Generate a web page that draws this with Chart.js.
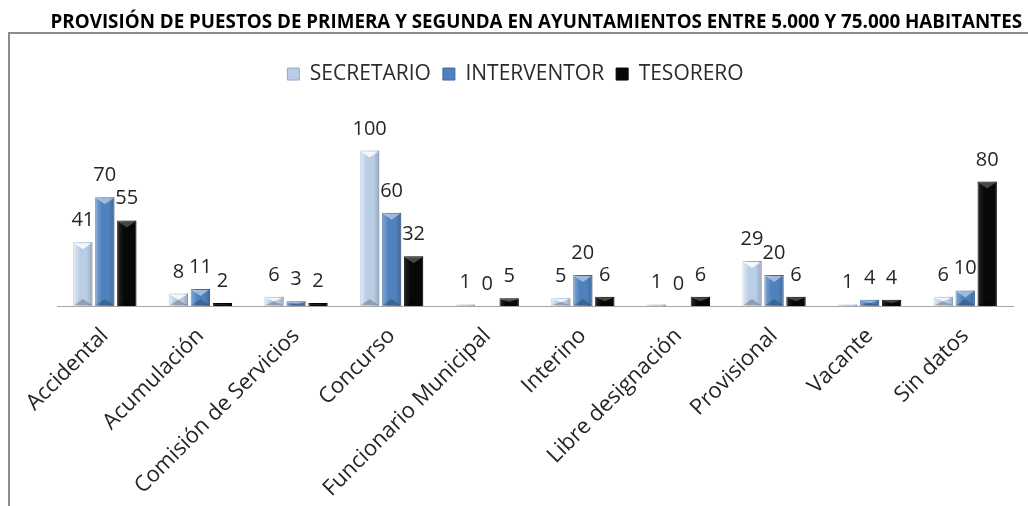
<!DOCTYPE html>
<html>
<head>
<meta charset="utf-8">
<script src="https://cdn.jsdelivr.net/npm/chart.js@4.4.1/dist/chart.umd.min.js"></script>
<style>
  html, body { margin: 0; padding: 0; background: #fff; }
  #wrap { width: 1028px; height: 506px; }
</style>
</head>
<body>
<div id="wrap"><canvas id="provChart" width="1028" height="506"></canvas></div>
<script>
const categories = [
    'Accidental', 'Acumulación', 'Comisión de Servicios', 'Concurso', 'Funcionario Municipal',
    'Interino', 'Libre designación', 'Provisional', 'Vacante', 'Sin datos',
];
const secretario = [41, 8, 6, 100, 1, 5, 1, 29, 1, 6];
const interventor = [70, 11, 3, 60, 0, 20, 0, 20, 4, 10];
const tesorero = [55, 2, 2, 32, 5, 6, 6, 6, 4, 80];

const FONT = "'Open Sans', 'Noto Sans', sans-serif";

// grey frame around the plot, title sits above it
const framePlugin = {
    id: 'frame',
    beforeDraw(chart) {
        const ctx = chart.ctx;
        ctx.save();
        ctx.fillStyle = '#fff';
        ctx.fillRect(0, 0, chart.width, chart.height);
        ctx.strokeStyle = '#8c8c8c';
        ctx.lineWidth = 2;
        ctx.strokeRect(9, 33, chart.width + 20, chart.height + 20);
        ctx.restore();
    },
};

// bevel shading on each bar plus the value above it
const bevelPlugin = {
    id: 'bevel',
    afterDatasetsDraw(chart) {
        const ctx = chart.ctx;
        chart.data.datasets.forEach((ds, i) => {
            const meta = chart.getDatasetMeta(i);
            meta.data.forEach((bar, j) => {
                const w = bar.width;
                const x0 = bar.x - w / 2;
                const x1 = bar.x + w / 2;
                const top = Math.min(bar.y, bar.base);
                const bottom = Math.max(bar.y, bar.base);
                const h = bottom - top;
                ctx.save();
                if (h > 0.5) {
                    const g = ctx.createLinearGradient(x0, 0, x1, 0);
                    g.addColorStop(0, 'rgba(255,255,255,' + ds.hiEdge + ')');
                    g.addColorStop(0.35, 'rgba(255,255,255,0)');
                    g.addColorStop(0.7, 'rgba(0,0,0,0)');
                    g.addColorStop(1, 'rgba(0,0,0,0.18)');
                    ctx.fillStyle = g;
                    ctx.fillRect(x0, top, w, h);

                    const t = Math.min(7, h / 2);
                    ctx.beginPath();
                    ctx.moveTo(x0 + 1, top + 1);
                    ctx.lineTo(x1 - 1, top + 1);
                    ctx.lineTo(bar.x, top + t);
                    ctx.closePath();
                    ctx.fillStyle = 'rgba(255,255,255,' + ds.hiTop + ')';
                    ctx.fill();

                    ctx.beginPath();
                    ctx.moveTo(x0 + 1, bottom - 1);
                    ctx.lineTo(x1 - 1, bottom - 1);
                    ctx.lineTo(bar.x, bottom - t);
                    ctx.closePath();
                    ctx.fillStyle = 'rgba(0,0,0,0.22)';
                    ctx.fill();
                }
                ctx.fillStyle = '#262626';
                ctx.font = '20px ' + FONT;
                ctx.textAlign = 'center';
                ctx.textBaseline = 'alphabetic';
                ctx.fillText(String(ds.data[j]), bar.x, top - 16);
                ctx.restore();
            });
        });
    },
};

const ctxProv = document.getElementById('provChart').getContext('2d');
const provChart = new Chart(ctxProv, {
    type: 'bar',
    data: {
        labels: categories,
        datasets: [
            {
                label: 'SECRETARIO',
                data: secretario,
                backgroundColor: '#b9cde5',
                borderColor: '#95aac8',
                hiEdge: 0.6,
                hiTop: 0.85,
            },
            {
                label: 'INTERVENTOR',
                data: interventor,
                backgroundColor: '#4f81bd',
                borderColor: '#3c6aa3',
                hiEdge: 0.3,
                hiTop: 0.45,
            },
            {
                label: 'TESORERO',
                data: tesorero,
                backgroundColor: '#080808',
                borderColor: '#000000',
                hiEdge: 0.12,
                hiTop: 0.25,
            },
        ],
    },
    options: {
        responsive: false,
        animation: false,
        datasets: {
            bar: {
                borderWidth: 1,
                categoryPercentage: 0.69,
                barPercentage: 0.88,
            },
        },
        layout: {
            padding: { left: 9, right: 6, top: 0, bottom: 0 },
        },
        scales: {
            y: {
                min: 0,
                max: 136,
                ticks: { display: false },
                grid: { display: false },
                border: { display: false },
                afterFit(scale) { scale.width = 48; },
            },
            y2: {
                type: 'linear',
                position: 'right',
                ticks: { display: false },
                grid: { display: false },
                border: { display: false },
                afterFit(scale) { scale.width = 9; },
            },
            x: {
                grid: { display: false, drawTicks: false },
                border: { display: true, color: '#a6a6a6', width: 1 },
                ticks: {
                    autoSkip: false,
                    minRotation: 45,
                    maxRotation: 45,
                    padding: 17,
                    color: '#262626',
                    font: { family: FONT, size: 22 },
                },
                afterFit(scale) { scale.height = 200; },
            },
        },
        plugins: {
            title: {
                display: true,
                align: 'end',
                text: 'PROVISIÓN DE PUESTOS DE PRIMERA Y SEGUNDA EN AYUNTAMIENTOS ENTRE 5.000 Y 75.000 HABITANTES',
                color: '#000',
                font: { family: FONT, size: 18.8, weight: 'bold' },
                padding: { top: 11, bottom: 18 },
            },
            legend: {
                labels: {
                    boxWidth: 12,
                    boxHeight: 12,
                    padding: 12,
                    color: '#2b2b2b',
                    font: { family: FONT, size: 21 },
                },
            },
            tooltip: { enabled: false },
        },
    },
    plugins: [framePlugin, bevelPlugin],
});
</script>
</body>
</html>
